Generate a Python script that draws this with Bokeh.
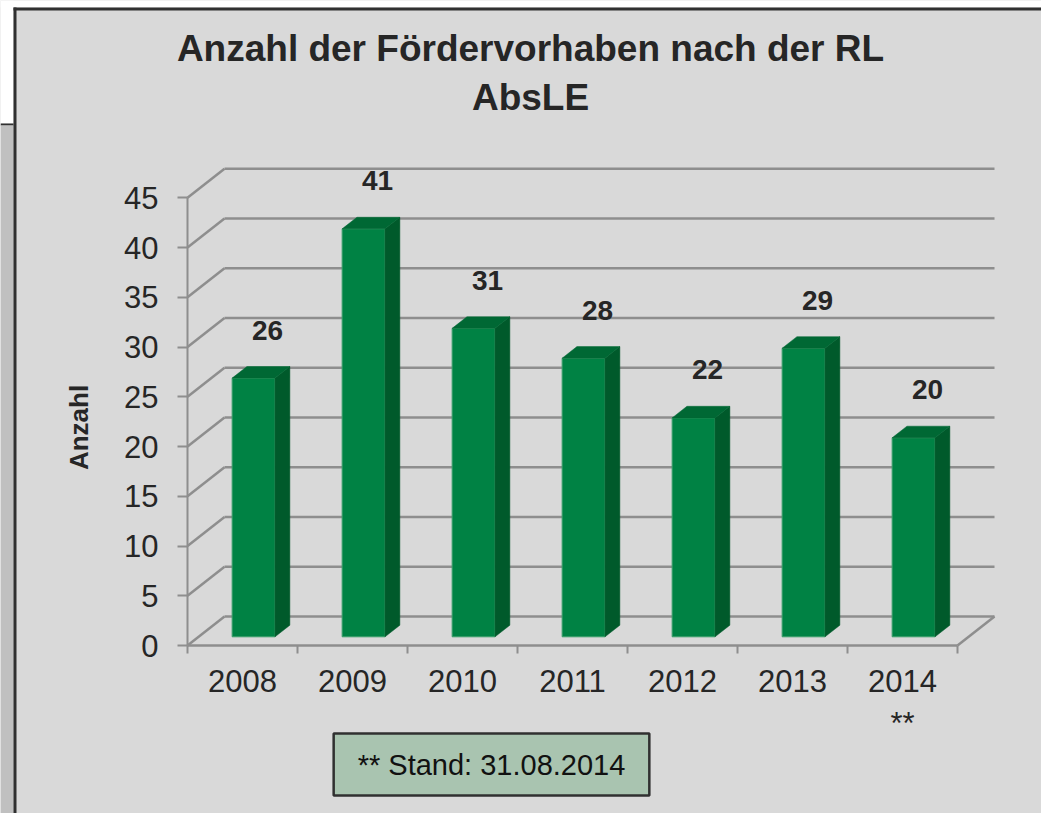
import math
from bokeh.plotting import figure
from bokeh.models import Range1d, LinearAxis, FixedTicker, Label, ColumnDataSource
from bokeh.core.properties import value
from bokeh.embed import file_html
from bokeh.resources import INLINE

# ---------------- data ----------------
years = ["2008", "2009", "2010", "2011", "2012", "2013", "2014"]
counts = [26, 41, 31, 28, 22, 29, 20]
year_tick_labels = ["2008", "2009", "2010", "2011", "2012", "2013", "2014\n**"]
y_ticks = [0, 5, 10, 15, 20, 25, 30, 35, 40, 45]
title_line1 = "Anzahl der Fördervorhaben nach der RL"
title_line2 = "AbsLE"
y_title = "Anzahl"
footnote = "** Stand: 31.08.2014"

# ---------------- layout / style ----------------
W, H = 1041, 813
X0, Y0 = 187, 645       # page position of the data origin (front plane)
CAT_PX = 110.0          # pixels per category
UNIT_PX = 9.95          # pixels per count unit
DX = 37 / CAT_PX        # 3-D depth offset (data units)
DY = 29 / UNIT_PX
F0, F1 = 0.3, 0.7       # bar front / back depth fraction
BAR_W = 0.39
N = len(years)
YMAXTICK = y_ticks[-1]

BG = "#D9D9D9"
GRID = "#8E8E8E"
TXT = "#262626"
FRONT = "#008244"
SIDE = "#005A2B"
TOP = "#006834"
DARK = "#303030"
FONT = "Liberation Sans"


def px_x(page_x):
    return (page_x - X0) / CAT_PX


def px_y(page_y):
    return (Y0 - page_y) / UNIT_PX


p = figure(width=W, height=H, x_range=Range1d(px_x(0), px_x(W)), y_range=Range1d(px_y(H), px_y(0)),
           x_axis_type=None, y_axis_type=None, output_backend="svg", toolbar_location=None,
           min_border=0)
p.background_fill_color = BG
p.border_fill_color = BG
p.outline_line_color = None
p.grid.visible = False

# ---------------- outer frame decorations ----------------
def page_box(l, r, t, b, color):
    p.quad(left=[px_x(l)], right=[px_x(r)], top=[px_y(t)], bottom=[px_y(b)],
           fill_color=color, line_color=None)

page_box(0, W, 0, 7, "#FFFFFF")
page_box(0, 13, 0, 123, "#FFFFFF")
page_box(0, 13, 123, 125, DARK)
page_box(0, 13, 125, H, "#C0C0C0")
page_box(13, 16, 7, H, DARK)
page_box(13, W, 7, 10, DARK)

# ---------------- walls / gridlines ----------------
gx, gy = [], []
for v in y_ticks:
    gx.append([0, DX]); gy.append([v, v + DY])               # side wall
    gx.append([DX, N + DX]); gy.append([v + DY, v + DY])     # back wall
gx.append([N, N + DX]); gy.append([0, DY])                   # floor right edge
p.multi_line(gx, gy, line_color=GRID, line_width=2.5)

# ---------------- bars ----------------
xl = [i + 0.5 - BAR_W / 2 + F0 * DX for i in range(N)]
xr = [i + 0.5 + BAR_W / 2 + F0 * DX for i in range(N)]
yb = F0 * DY
dd_x = (F1 - F0) * DX
dd_y = (F1 - F0) * DY

front = ColumnDataSource(dict(l=xl, r=xr, t=[c + yb for c in counts], b=[yb] * N))
p.quad(left="l", right="r", top="t", bottom="b", source=front,
       fill_color=FRONT, line_color="#3A9E6A", line_width=1)

side_xs = [[r, r + dd_x, r + dd_x, r] for r in xr]
side_ys = [[yb, yb + dd_y, c + yb + dd_y, c + yb] for c in counts]
p.patches(side_xs, side_ys, fill_color=SIDE, line_color=SIDE, line_width=0.5)

top_xs = [[l, r, r + dd_x, l + dd_x] for l, r in zip(xl, xr)]
top_ys = [[c + yb, c + yb, c + yb + dd_y, c + yb + dd_y] for c in counts]
p.patches(top_xs, top_ys, fill_color=TOP, line_color=TOP, line_width=0.5)

# ---------------- value labels ----------------
lab = ColumnDataSource(dict(x=[i + 0.5 + F0 * DX for i in range(N)],
                            y=[c + yb for c in counts],
                            t=[str(c) for c in counts]))
p.text(x="x", y="y", text="t", source=lab, x_offset=14, y_offset=-48,
       text_align="center", text_baseline="middle",
       text_font=value(FONT), text_font_style="bold", text_font_size="28px", text_color=TXT)

# ---------------- axes (drawn at the front plane) ----------------
yaxis = LinearAxis(ticker=FixedTicker(ticks=y_ticks), bounds=(0, YMAXTICK), fixed_location=0)
yaxis.axis_line_color = GRID
yaxis.axis_line_width = 2
yaxis.major_tick_line_color = GRID
yaxis.major_tick_line_width = 2
yaxis.major_tick_out = 10
yaxis.major_tick_in = 0
yaxis.minor_tick_line_color = None
yaxis.major_label_standoff = 19
yaxis.major_label_text_font = FONT
yaxis.major_label_text_font_size = "31px"
yaxis.major_label_text_color = TXT
p.add_layout(yaxis, "left")

centers = [i + 0.5 for i in range(N)]
xaxis = LinearAxis(ticker=FixedTicker(ticks=centers, minor_ticks=list(range(N + 1))),
                   bounds=(0, N), fixed_location=0)
xaxis.axis_line_color = GRID
xaxis.axis_line_width = 2.5
xaxis.major_tick_line_color = None
xaxis.major_tick_out = 0
xaxis.major_tick_in = 0
xaxis.minor_tick_line_color = GRID
xaxis.minor_tick_line_width = 2
xaxis.minor_tick_out = 8
xaxis.minor_tick_in = 0
xaxis.major_label_overrides = {c: t for c, t in zip(centers, year_tick_labels)}
xaxis.major_label_standoff = 10
xaxis.major_label_text_font = FONT
xaxis.major_label_text_font_size = "31px"
xaxis.major_label_text_color = TXT
p.add_layout(xaxis, "below")

# ---------------- texts ----------------
p.add_layout(Label(x=px_x(530), y=px_y(48), text=title_line1, text_align="center", text_baseline="middle",
                   text_font=FONT, text_font_style="bold", text_font_size="37px", text_color=TXT))
p.add_layout(Label(x=px_x(530), y=px_y(97), text=title_line2, text_align="center", text_baseline="middle",
                   text_font=FONT, text_font_style="bold", text_font_size="37px", text_color=TXT))
p.add_layout(Label(x=px_x(78), y=px_y(427), text=y_title, angle=math.pi / 2,
                   text_align="center", text_baseline="middle",
                   text_font=FONT, text_font_style="bold", text_font_size="26px", text_color=TXT))
p.add_layout(Label(x=px_x(491), y=px_y(764), text=footnote, text_align="center", text_baseline="middle",
                   text_font=FONT, text_font_size="29px", text_color="#111111",
                   background_fill_color="#A9C4B0", border_line_color=DARK, border_line_width=2.5,
                   padding=(24, 15)))

open("out.html", "w").write(file_html(p, INLINE))
